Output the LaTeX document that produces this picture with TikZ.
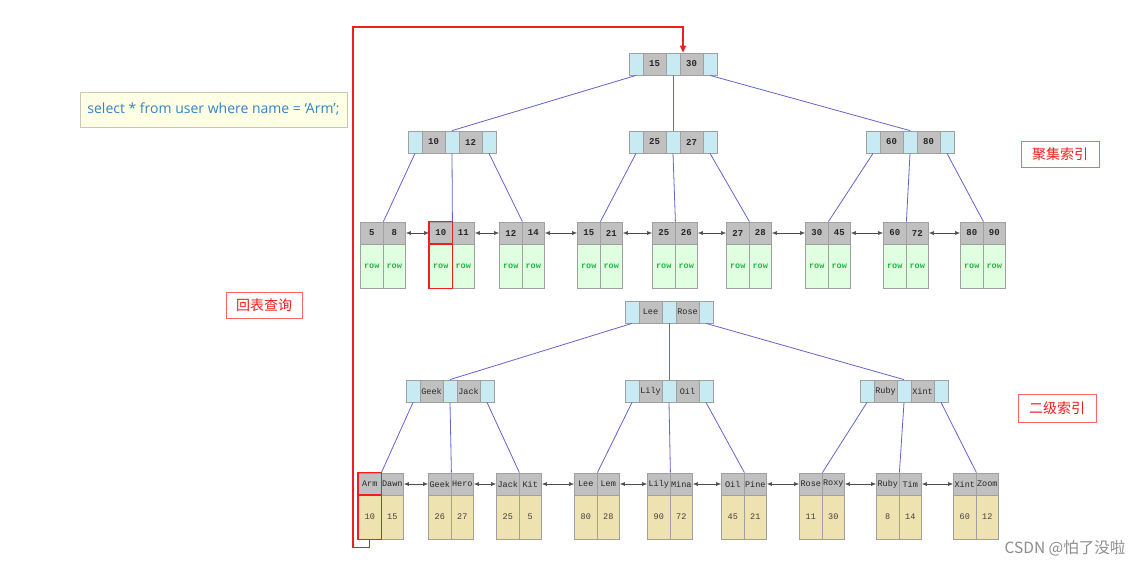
\documentclass[tikz,border=0pt]{standalone}
\usepackage{fontspec}
\setmainfont{Open Sans}
\setmonofont{Liberation Mono}
\newfontfamily\cjk{Noto Sans CJK SC}
\usetikzlibrary{arrows.meta}

\definecolor{ptrblue}{RGB}{200,234,242}
\definecolor{keygray}{RGB}{192,192,192}
\definecolor{cellline}{RGB}{160,160,160}
\definecolor{rowgreen}{RGB}{224,255,224}
\definecolor{rowtext}{RGB}{40,180,70}
\definecolor{valtan}{RGB}{238,226,176}
\definecolor{linkblue}{RGB}{100,100,205}
\definecolor{hitred}{RGB}{240,30,30}
\definecolor{tagred}{RGB}{255,100,100}
\definecolor{querybg}{RGB}{255,255,230}
\definecolor{queryline}{RGB}{200,200,180}
\definecolor{querytext}{RGB}{50,130,200}

% inner node: name, x, y, key 1, key 2
\newcommand{\treenode}[5]{%
  \node (#1a) at (#2-37,#3) [ptr]{};
  \node (#1k1) at (#2-18.5,#3) [keycell]{#4};
  \node (#1b) at (#2,#3) [ptr]{};
  \node (#1k2) at (#2+18.5,#3) [keycell]{#5};
  \node (#1c) at (#2+37,#3) [ptr]{};
}
% leaf: name, x, y, key 1, key 2, data 1, data 2, data style
\newcommand{\leafnode}[8]{%
  \node (#1k1) at (#2-11.25,#3) [leafkey]{#4};
  \node (#1k2) at (#2+11.25,#3) [leafkey]{#5};
  \node (#1d1) at (#2-11.25,#3+33) [#8]{#6};
  \node (#1d2) at (#2+11.25,#3+33) [#8]{#7};
}

\begin{document}
\begin{tikzpicture}[x=1pt,y=-1pt,
  keytext/.style={font=\ttfamily\bfseries\fontsize{9}{9}\selectfont, text=black!85},
  ptr/.style={rectangle, draw=cellline, line width=0.8pt, fill=ptrblue, minimum width=14pt, minimum height=22pt, inner sep=0pt},
  keycell/.style={rectangle, draw=cellline, line width=0.8pt, fill=keygray, minimum width=23pt, minimum height=22pt, inner sep=0pt, keytext},
  leafkey/.style={keycell, minimum width=22.5pt},
  rowcell/.style={rectangle, draw=cellline, line width=0.8pt, fill=rowgreen, minimum width=22.5pt, minimum height=44pt, inner sep=0pt, text=rowtext, font=\ttfamily\bfseries\fontsize{8.5}{9}\selectfont},
  valcell/.style={rowcell, fill=valtan, text=black!75, font=\ttfamily\fontsize{8.5}{9}\selectfont},
  link/.style={draw=linkblue, line width=0.8pt},
  sib/.style={draw=black!70, line width=0.6pt, {Latex[length=5pt,width=4pt]}-{Latex[length=5pt,width=4pt]}},
  hit/.style={draw=hitred, line width=1.5pt},
  back/.style={draw=hitred, line width=1.2pt, -{Triangle[length=7pt,width=6pt]}},
  tagbox/.style={rectangle, draw=tagred, line width=0.8pt, text=hitred, minimum width=78pt, minimum height=26pt, font=\cjk\fontsize{14}{16}\selectfont},
  query/.style={rectangle, draw=queryline, line width=0.8pt, fill=querybg, text=querytext, minimum width=267pt, minimum height=35pt, font=\fontsize{14}{16}\selectfont}]

\fill[white] (0,0) rectangle (1148,566);
\useasboundingbox (0,0) rectangle (1148,566);

% clustered index
\treenode{t1r}{673}{64}{15}{30}
\treenode{t1L}{452}{142}{10}{12}
\treenode{t1M}{673}{142}{25}{27}
\treenode{t1R}{910}{142}{60}{80}

\leafnode{t1l1}{383}{233}{5}{8}{row}{row}{rowcell}
\leafnode{t1l2}{452}{233}{10}{11}{row}{row}{rowcell}
\leafnode{t1l3}{522}{233}{12}{14}{row}{row}{rowcell}
\leafnode{t1l4}{600}{233}{15}{21}{row}{row}{rowcell}
\leafnode{t1l5}{675}{233}{25}{26}{row}{row}{rowcell}
\leafnode{t1l6}{749}{233}{27}{28}{row}{row}{rowcell}
\leafnode{t1l7}{828}{233}{30}{45}{row}{row}{rowcell}
\leafnode{t1l8}{906}{233}{60}{72}{row}{row}{rowcell}
\leafnode{t1l9}{983}{233}{80}{90}{row}{row}{rowcell}

\draw [link] (t1ra.south) -- (t1Lb.north);
\draw [link] (t1rb.south) -- (t1Mb.north);
\draw [link] (t1rc.south) -- (t1Rb.north);
\draw [link] (t1La.south) -- (t1l1k1.north east);
\draw [link] (t1Lb.south) -- (t1l2k1.north east);
\draw [link] (t1Lc.south) -- (t1l3k1.north east);
\draw [link] (t1Ma.south) -- (t1l4k1.north east);
\draw [link] (t1Mb.south) -- (t1l5k1.north east);
\draw [link] (t1Mc.south) -- (t1l6k1.north east);
\draw [link] (t1Ra.south) -- (t1l7k1.north east);
\draw [link] (t1Rb.south) -- (t1l8k1.north east);
\draw [link] (t1Rc.south) -- (t1l9k1.north east);

\draw [sib] (t1l1k2.east) -- (t1l2k1.west);
\draw [sib] (t1l2k2.east) -- (t1l3k1.west);
\draw [sib] (t1l3k2.east) -- (t1l4k1.west);
\draw [sib] (t1l4k2.east) -- (t1l5k1.west);
\draw [sib] (t1l5k2.east) -- (t1l6k1.west);
\draw [sib] (t1l6k2.east) -- (t1l7k1.west);
\draw [sib] (t1l7k2.east) -- (t1l8k1.west);
\draw [sib] (t1l8k2.east) -- (t1l9k1.west);

% secondary index
\begin{scope}[keytext/.style={font=\ttfamily\fontsize{8.5}{9}\selectfont, text=black!85}]
\treenode{t2r}{669}{312}{Lee}{Rose}
\treenode{t2L}{450}{391}{Geek}{Jack}
\treenode{t2M}{669}{391}{Lily}{Oil}
\treenode{t2R}{904}{391}{Ruby}{Xint}

\leafnode{t2l1}{381}{484}{Arm}{Dawn}{10}{15}{valcell}
\leafnode{t2l2}{451}{484}{Geek}{Hero}{26}{27}{valcell}
\leafnode{t2l3}{519}{484}{Jack}{Kit}{25}{5}{valcell}
\leafnode{t2l4}{597}{484}{Lee}{Lem}{80}{28}{valcell}
\leafnode{t2l5}{670}{484}{Lily}{Mina}{90}{72}{valcell}
\leafnode{t2l6}{744}{484}{Oil}{Pine}{45}{21}{valcell}
\leafnode{t2l7}{822}{484}{Rose}{Roxy}{11}{30}{valcell}
\leafnode{t2l8}{899}{484}{Ruby}{Tim}{8}{14}{valcell}
\leafnode{t2l9}{976}{484}{Xint}{Zoom}{60}{12}{valcell}
\end{scope}

\draw [link] (t2ra.south) -- (t2Lb.north);
\draw [link] (t2rb.south) -- (t2Mb.north);
\draw [link] (t2rc.south) -- (t2Rb.north);
\draw [link] (t2La.south) -- (t2l1k1.north east);
\draw [link] (t2Lb.south) -- (t2l2k1.north east);
\draw [link] (t2Lc.south) -- (t2l3k1.north east);
\draw [link] (t2Ma.south) -- (t2l4k1.north east);
\draw [link] (t2Mb.south) -- (t2l5k1.north east);
\draw [link] (t2Mc.south) -- (t2l6k1.north east);
\draw [link] (t2Ra.south) -- (t2l7k1.north east);
\draw [link] (t2Rb.south) -- (t2l8k1.north east);
\draw [link] (t2Rc.south) -- (t2l9k1.north east);

\draw [sib] (t2l1k2.east) -- (t2l2k1.west);
\draw [sib] (t2l2k2.east) -- (t2l3k1.west);
\draw [sib] (t2l3k2.east) -- (t2l4k1.west);
\draw [sib] (t2l4k2.east) -- (t2l5k1.west);
\draw [sib] (t2l5k2.east) -- (t2l6k1.west);
\draw [sib] (t2l6k2.east) -- (t2l7k1.west);
\draw [sib] (t2l7k2.east) -- (t2l8k1.west);
\draw [sib] (t2l8k2.east) -- (t2l9k1.west);

% the hit and the way back
\draw [hit] (t1l2k1.south west) rectangle (t1l2k1.north east);
\draw [hit] (t1l2d1.south west) rectangle (t1l2d1.north east);
\draw [hit] (t2l1k1.south west) rectangle (t2l1k1.north east);
\draw [hit] (t2l1d1.south west) rectangle (t2l1d1.north east);

\coordinate (corner) at (353,27);
\draw [back] (t2l1d1.south) -- ++(0,8) -| (corner) -| ([xshift=10pt]t1rb.north);

\node (query) at (213.5,109.5) [query]{select * from user where name = ‘Arm’;};
\node (clustered) at (1060,154) [tagbox]{聚集索引};
\node (secondary) at (1057,408) [tagbox, minimum height=28pt]{二级索引};
\node (lookup) at (264,305) [tagbox, minimum width=76pt]{回表查询};
\node (csdn) at (1065,548) [text=black!45, font=\cjk\fontsize{15.5}{17}\selectfont]{CSDN @怕了没啦};

\end{tikzpicture}
\end{document}
